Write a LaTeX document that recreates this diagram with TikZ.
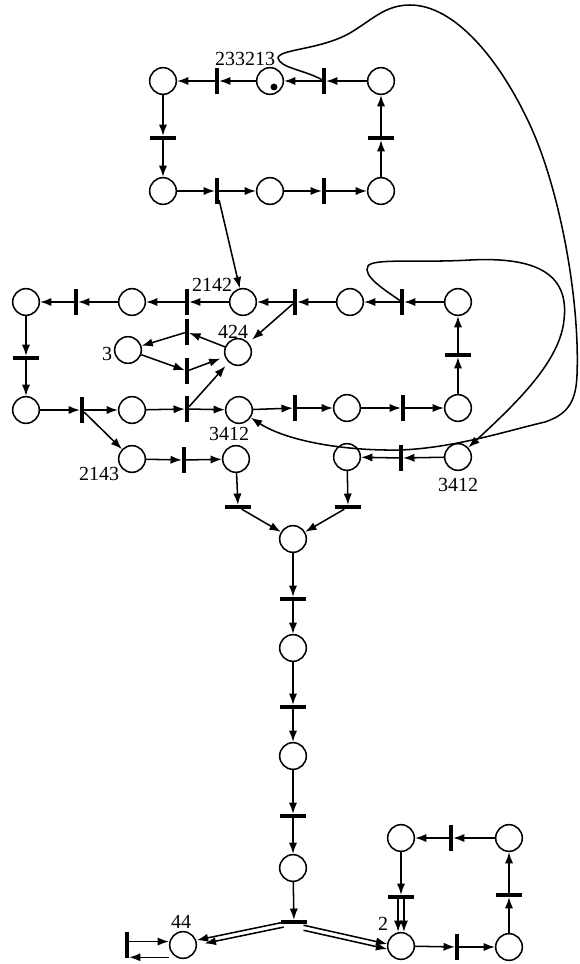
\documentclass[tikz,border=0pt]{standalone}
\usepackage{fontspec}
\setmainfont{Liberation Serif}
\usetikzlibrary{arrows.meta,calc}
\begin{document}
\begin{tikzpicture}[x=0.75pt,y=-0.75pt,
  place/.style={circle,draw,line width=1.15pt,minimum size=20pt,inner sep=0pt},
  vtr/.style={rectangle,fill=black,minimum width=2.8pt,minimum height=19.5pt,inner sep=0pt},
  htr/.style={rectangle,fill=black,minimum width=19.5pt,minimum height=2.8pt,inner sep=0pt},
  flow/.style={line width=1.15pt,-{Latex[length=8.5pt,width=6.2pt]}},
  short/.style={shorten >=3.5pt},
  lbl/.style={anchor=base,inner sep=0pt,font=\fontsize{15}{18}\selectfont}]

\path[fill=white,use as bounding box] (0,0) rectangle (579,964);

% ---------- upper cycle ----------
\node[place] (pA1) at (163,81) {};
\node[vtr]   (tA1) at (217,81) {};
\node[place] (pA2) at (270,81) {};
\node[vtr]   (tA2) at (324,81) {};
\node[place] (pA3) at (381,81) {};
\node[htr]   (tA3) at (163,138) {};
\node[place] (pA4) at (163,191) {};
\node[vtr]   (tA4) at (217,191) {};
\node[place] (pA5) at (270,191) {};
\node[vtr]   (tA5) at (324,191) {};
\node[place] (pA6) at (381,191) {};
\node[htr]   (tA6) at (381,138) {};
\fill (274,87) circle[radius=2.6pt];
\node[lbl] at (245,65) {233213};

\draw[flow] (pA3) -- (tA2);
\draw[flow] (tA2) -- (pA2);
\draw[flow] (pA2) -- (tA1);
\draw[flow] (tA1) -- (pA1);
\draw[flow] (pA1) -- (tA3);
\draw[flow] (tA3) -- (pA4);
\draw[flow] (pA4) -- (tA4);
\draw[flow] (tA4) -- (pA5);
\draw[flow] (pA5) -- (tA5);
\draw[flow] (tA5) -- (pA6);
\draw[flow] (pA6) -- (tA6);
\draw[flow] (tA6) -- (pA3);

% ---------- middle cycle ----------
\node[place] (pB1) at (26,302) {};
\node[vtr]   (tB1) at (76,302) {};
\node[place] (pB2) at (132,302) {};
\node[vtr]   (tB2) at (187,302) {};
\node[place] (pB3) at (243,302) {};
\node[vtr]   (tB3) at (295,302) {};
\node[place] (pB4) at (350,302) {};
\node[vtr]   (tB4) at (402,302) {};
\node[place] (pB5) at (458,302) {};
\node[htr]   (tB5) at (458,355) {};
\node[htr]   (tB6) at (26,358) {};
\node[place] (pC1) at (26,410) {};
\node[vtr]   (tC1) at (82,410) {};
\node[place] (pC2) at (132,410) {};
\node[vtr]   (tC2) at (187,409) {};
\node[place] (pC3) at (239,410) {};
\node[vtr]   (tC3) at (295,408) {};
\node[place] (pC4) at (347,408) {};
\node[vtr]   (tC4) at (403,408) {};
\node[place] (pC5) at (458,408) {};

\node[place] (p3)   at (128,350) {};
\node[place] (p424) at (238,352) {};
\node[vtr]   (tU)   at (187,332) {};
\node[vtr]   (tL)   at (187,371) {};

\node[lbl] at (212,291) {2142};
\node[lbl] at (233,338) {424};
\node[lbl] at (107,360) {3};
\node[lbl] at (229,440) {3412};

\draw[flow] (pB5) -- (tB4);
\draw[flow] (tB4) -- (pB4);
\draw[flow] (pB4) -- (tB3);
\draw[flow] (tB3) -- (pB3);
\draw[flow] (pB3) -- (tB2);
\draw[flow] (tB2) -- (pB2);
\draw[flow] (pB2) -- (tB1);
\draw[flow] (tB1) -- (pB1);
\draw[flow] (pB1) -- (tB6);
\draw[flow] (tB6) -- (pC1);
\draw[flow] (pC1) -- (tC1);
\draw[flow] (tC1) -- (pC2);
\draw[flow] (pC2) -- (tC2);
\draw[flow] (tC2) -- (pC3);
\draw[flow] (pC3) -- (tC3);
\draw[flow] (tC3) -- (pC4);
\draw[flow] (pC4) -- (tC4);
\draw[flow] (tC4) -- (pC5);
\draw[flow] (pC5) -- (tB5);
\draw[flow] (tB5) -- (pB5);

\draw[flow] (tA4) -- (pB3);
\draw[flow,short] (tB3) -- (p424);
\draw[flow,short] (tC2) -- (p424);
\draw[flow] (p424) -- (tU);
\draw[flow] (tU) -- (p3);
\draw[flow] (p3) -- (tL);
\draw[flow,short] (tL) -- (p424);

% ---------- side branches ----------
\node[place] (pD1) at (132,459) {};
\node[vtr]   (tD1) at (184,460) {};
\node[place] (pD2) at (236,459) {};
\node[lbl] at (99,480) {2143};
\draw[flow] (tC1) -- (pD1);
\draw[flow] (pD1) -- (tD1);
\draw[flow] (tD1) -- (pD2);

\node[place] (pE1) at (347,457) {};
\node[vtr]   (tE1) at (401,458) {};
\node[place] (pE2) at (458,457) {};
\node[lbl] at (458,491) {3412};
\draw[flow] (pE2) -- (tE1);
\draw[flow] (tE1) -- (pE1);

% long feedback arcs
\draw[flow] (tA2) .. controls (305,70) and (280,68) .. (278,58)
  .. controls (279,49) and (320,50) .. (350,33)
  .. controls (372,20) and (385,5) .. (410,5)
  .. controls (455,5) and (500,60) .. (530,125)
  .. controls (560,190) and (580,300) .. (577,375)
  .. controls (576,405) and (565,415) .. (545,422)
  .. controls (510,430) and (455,448) .. (400,450)
  .. controls (340,451) and (285,440) .. (pC3);

\draw[flow] (tB4) .. controls (385,290) and (362,276) .. (368,266)
  .. controls (373,258) and (420,263) .. (470,260)
  .. controls (530,257) and (570,270) .. (564,320)
  .. controls (560,360) and (520,400) .. (pE2);

% ---------- merge and central column ----------
\node[htr]   (tF1) at (238,507) {};
\node[htr]   (tF2) at (348,507) {};
\node[place] (pG1) at (293,539) {};
\node[htr]   (tG1) at (293,599) {};
\node[place] (pG2) at (293,648) {};
\node[htr]   (tG2) at (293,707) {};
\node[place] (pG3) at (293,756) {};
\node[htr]   (tG3) at (293,816) {};
\node[place] (pG4) at (293,868) {};
\node[htr]   (tG4) at (294,922) {};

\draw[flow] (pD2) -- (tF1);
\draw[flow] (pE1) -- (tF2);
\draw[flow] (tF1) -- (pG1);
\draw[flow] (tF2) -- (pG1);
\draw[flow] (pG1) -- (tG1);
\draw[flow] (tG1) -- (pG2);
\draw[flow] (pG2) -- (tG2);
\draw[flow] (tG2) -- (pG3);
\draw[flow] (pG3) -- (tG3);
\draw[flow] (tG3) -- (pG4);
\draw[flow] (pG4) -- (tG4);

% ---------- bottom ----------
\node[place] (p44) at (183,945) {};
\node[vtr]   (tH)  at (127,945) {};
\node[lbl] at (181,928) {44};
\draw[flow,transform canvas={yshift=1.5pt}] (tG4) -- (p44);
\draw[flow,shorten >=6pt,transform canvas={yshift=-2.2pt}] (tG4) -- (p44);
\draw[flow,transform canvas={yshift=2.6pt}] (tH) -- (p44);
\draw[flow,transform canvas={yshift=-9.2pt}] (p44) -- (tH);

\node[place] (p2)  at (401,946) {};
\node[vtr]   (tJ1) at (457,947) {};
\node[place] (pJ1) at (509,947) {};
\node[htr]   (tJ2) at (509,895) {};
\node[place] (pJ2) at (509,838) {};
\node[vtr]   (tJ3) at (451,838) {};
\node[place] (pJ3) at (401,838) {};
\node[htr]   (tJ4) at (401,897) {};
\node[lbl] at (383,930) {2};

\draw[flow,transform canvas={yshift=-0.8pt}] (tG4) -- (p2);
\draw[flow,transform canvas={yshift=-4.6pt}] (tG4) -- (p2);
\draw[flow,transform canvas={xshift=-2.2pt}] (tJ4) -- (p2);
\draw[flow,transform canvas={xshift=2.2pt}] (tJ4) -- (p2);
\draw[flow] (p2) -- (tJ1);
\draw[flow] (tJ1) -- (pJ1);
\draw[flow] (pJ1) -- (tJ2);
\draw[flow] (tJ2) -- (pJ2);
\draw[flow] (pJ2) -- (tJ3);
\draw[flow] (tJ3) -- (pJ3);
\draw[flow] (pJ3) -- (tJ4);
\end{tikzpicture}
\end{document}
